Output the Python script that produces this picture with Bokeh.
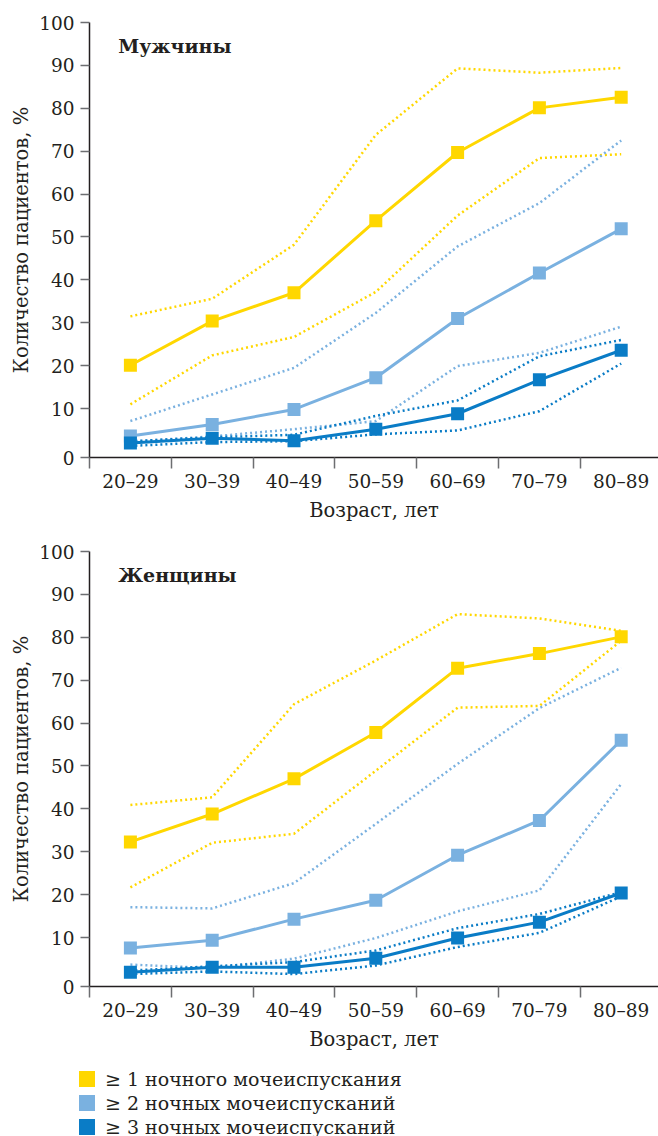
from bokeh.plotting import figure
from bokeh.models import FixedTicker, Range1d, Label, Div
from bokeh.layouts import column
from bokeh.embed import file_html
from bokeh.resources import INLINE

# ---------------- data ----------------
AGE_GROUPS = ["20–29", "30–39", "40–49", "50–59", "60–69", "70–79", "80–89"]
Y_TICKS = [0, 10, 20, 30, 40, 50, 60, 70, 80, 90, 100]
Y_TICK_LABELS = ["0", "10", "20", "30", "40", "50", "60", "70", "80", "90", "100"]
SERIES_NAMES = ["≥ 1 ночного мочеиспускания", "≥ 2 ночных мочеиспусканий", "≥ 3 ночных мочеиспусканий"]
PANEL_TITLES = ["Мужчины", "Женщины"]
X_TITLE = "Возраст, лет"
Y_TITLE = "Количество пациентов, %"

# Men
MEN_GE1 = [20.1, 30.4, 37.0, 53.8, 69.7, 80.1, 82.6]
MEN_GE1_HI = [31.5, 35.6, 48.2, 73.8, 89.3, 88.3, 89.4]
MEN_GE1_LO = [11.0, 22.4, 26.7, 37.2, 55.0, 68.4, 69.3]
MEN_GE2 = [3.6, 6.3, 9.8, 17.2, 31.0, 41.6, 51.9]
MEN_GE2_HI = [7.1, 13.3, 19.5, 32.3, 47.8, 57.9, 72.5]
MEN_GE2_LO = [2.3, 3.5, 5.2, 7.1, 19.9, 23.0, 29.1]
MEN_GE3 = [2.0, 3.1, 2.5, 5.2, 8.8, 16.7, 23.6]
MEN_GE3_HI = [2.4, 3.3, 3.9, 8.3, 11.9, 22.2, 26.0]
MEN_GE3_LO = [1.3, 2.2, 2.4, 4.0, 4.9, 9.4, 20.5]

# Women
WOMEN_GE1 = [32.3, 38.8, 47.0, 57.8, 72.8, 76.2, 80.1]
WOMEN_GE1_HI = [40.9, 42.7, 64.4, 74.6, 85.4, 84.4, 81.5]
WOMEN_GE1_LO = [21.7, 32.1, 34.2, 48.9, 63.6, 64.0, 79.2]
WOMEN_GE2 = [7.6, 9.4, 14.3, 18.7, 29.2, 37.3, 56.0]
WOMEN_GE2_HI = [17.1, 16.8, 22.7, 36.5, 50.5, 63.5, 72.9]
WOMEN_GE2_LO = [3.7, 2.9, 5.1, 9.9, 16.1, 21.0, 45.8]
WOMEN_GE3 = [1.9, 3.1, 3.1, 5.2, 9.9, 13.6, 20.4]
WOMEN_GE3_HI = [2.3, 3.3, 4.3, 7.0, 12.2, 15.5, 20.6]
WOMEN_GE3_LO = [1.5, 2.1, 1.5, 3.5, 7.8, 11.1, 19.6]

# ---------------- style ----------------
COLORS = ["#FFD700", "#7AB1E0", "#0A7CC6"]
FONT = "DejaVu Serif"
TEXT_COLOR = "#231F20"
TICK_COLOR = "#6D6E71"
YMIN = -1.4
XMAX = 6.956

X = [i + 0.5 for i in range(len(AGE_GROUPS))]
BOUNDS = list(range(len(AGE_GROUPS) + 1))


def make_panel(title, mains, his, los, height, border_top, border_bottom):
    p = figure(width=658, height=height, x_range=Range1d(0, XMAX), y_range=Range1d(YMIN, 100),
               output_backend="svg", toolbar_location=None,
               min_border_left=89, min_border_right=0, min_border_top=border_top,
               min_border_bottom=border_bottom)
    p.outline_line_color = None
    p.grid.visible = False

    xa = p.xaxis[0]
    xa.ticker = FixedTicker(ticks=X, minor_ticks=BOUNDS)
    xa.major_label_overrides = {x: lab for x, lab in zip(X, AGE_GROUPS)}
    xa.major_tick_out = 0
    xa.major_tick_in = 0
    xa.minor_tick_out = 11
    xa.minor_tick_in = 0
    xa.minor_tick_line_color = TICK_COLOR
    xa.minor_tick_line_width = 1.5
    xa.axis_line_color = TEXT_COLOR
    xa.axis_line_width = 1.5
    xa.major_label_standoff = 2
    xa.major_label_text_font = FONT
    xa.major_label_text_font_size = "18.5px"
    xa.major_label_text_color = TEXT_COLOR
    xa.axis_label = X_TITLE
    xa.axis_label_standoff = 4
    xa.axis_label_text_font = FONT
    xa.axis_label_text_font_size = "19.5px"
    xa.axis_label_text_font_style = "normal"
    xa.axis_label_text_color = TEXT_COLOR

    ya = p.yaxis[0]
    ytick_pos = [YMIN if t == 0 else t for t in Y_TICKS]
    ya.ticker = FixedTicker(ticks=ytick_pos, minor_ticks=[])
    ya.major_label_overrides = {pos: lab for pos, lab in zip(ytick_pos, Y_TICK_LABELS)}
    ya.major_tick_out = 9
    ya.major_tick_in = 0
    ya.major_tick_line_color = TICK_COLOR
    ya.major_tick_line_width = 1.5
    ya.axis_line_color = TEXT_COLOR
    ya.axis_line_width = 1.5
    ya.major_label_standoff = 6
    ya.major_label_text_font = FONT
    ya.major_label_text_font_size = "18.5px"
    ya.major_label_text_color = TEXT_COLOR
    ya.axis_label = Y_TITLE
    ya.axis_label_standoff = 3
    ya.axis_label_text_font = FONT
    ya.axis_label_text_font_size = "19.5px"
    ya.axis_label_text_font_style = "normal"
    ya.axis_label_text_color = TEXT_COLOR

    for c, hi, lo in zip(COLORS, his, los):
        p.line(X, hi, line_color=c, line_width=2.5, line_dash="2 3")
        p.line(X, lo, line_color=c, line_width=2.5, line_dash="2 3")
    for c, m in zip(COLORS, mains):
        p.line(X, m, line_color=c, line_width=3)
        p.scatter(X, m, marker="square", size=13, fill_color=c, line_color=None)

    p.add_layout(Label(x=0.35, y=94.6, text=title, text_font=FONT, text_font_size="19px",
                       text_font_style="bold", text_baseline="middle", text_color=TEXT_COLOR))
    return p


top = make_panel(PANEL_TITLES[0], [MEN_GE1, MEN_GE2, MEN_GE3],
                 [MEN_GE1_HI, MEN_GE2_HI, MEN_GE3_HI], [MEN_GE1_LO, MEN_GE2_LO, MEN_GE3_LO],
                 height=537, border_top=22, border_bottom=80)
bottom = make_panel(PANEL_TITLES[1], [WOMEN_GE1, WOMEN_GE2, WOMEN_GE3],
                    [WOMEN_GE1_HI, WOMEN_GE2_HI, WOMEN_GE3_HI],
                    [WOMEN_GE1_LO, WOMEN_GE2_LO, WOMEN_GE3_LO],
                    height=529, border_top=14, border_bottom=80)

# legend strip (HTML): coloured squares + labels
rows_html = "".join(
    f'<div style="display:flex;align-items:center;height:24px;">'
    f'<span style="display:inline-block;width:16px;height:16px;background:{c};margin-right:10px;"></span>'
    f'<span>{name}</span></div>'
    for c, name in zip(COLORS, SERIES_NAMES)
)
legend_html = (f'<div style="padding:1px 0 0 79px;font-family:\'{FONT}\';font-size:19px;'
               f'color:{TEXT_COLOR};line-height:24px;white-space:nowrap;">{rows_html}</div>')
legend = Div(text=legend_html, width=658, height=70, margin=0)

layout = column(top, bottom, legend, spacing=0)
open("out.html", "w").write(file_html(layout, INLINE))
